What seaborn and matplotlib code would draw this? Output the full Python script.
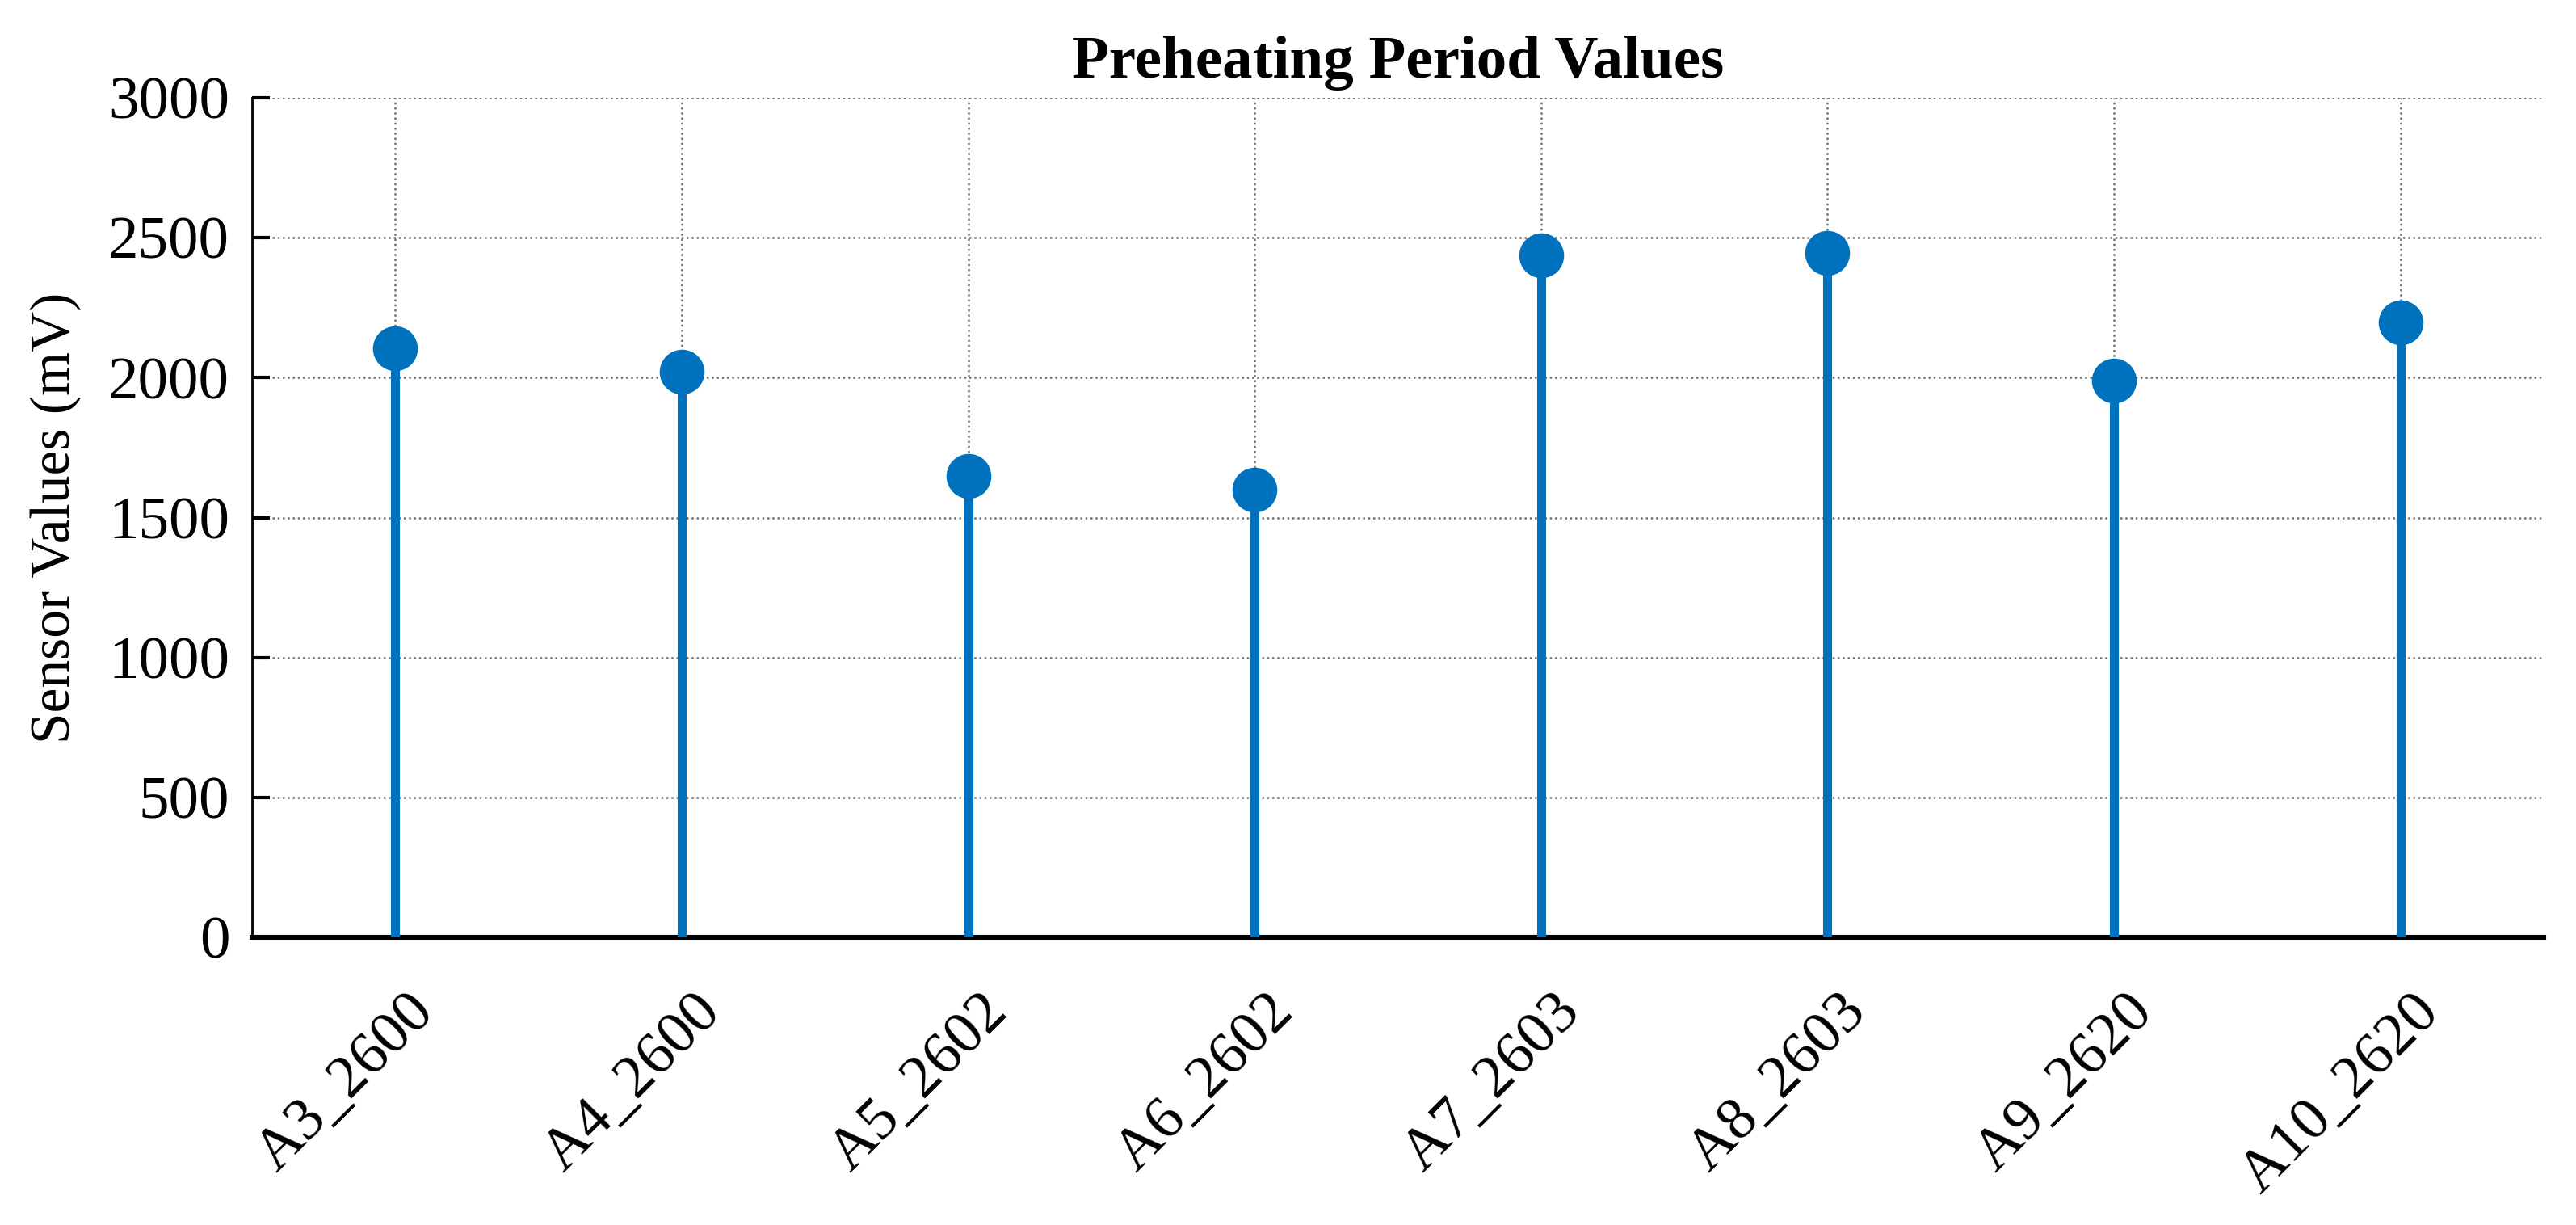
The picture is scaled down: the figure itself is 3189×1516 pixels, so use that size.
import numpy as np
import pandas as pd
import matplotlib
matplotlib.use("Agg")
import matplotlib.pyplot as plt
import matplotlib.transforms as mtransforms
import seaborn as sns

# -----------------------------
# data
# -----------------------------
sensors = ['A3_2600', 'A4_2600', 'A5_2602', 'A6_2602',
           'A7_2603', 'A8_2603', 'A9_2620', 'A10_2620']
values = [2105, 2022, 1648, 1600, 2437, 2447, 1988, 2196]
yticks = [0, 500, 1000, 1500, 2000, 2500, 3000]

df = pd.DataFrame({'sensor': sensors, 'value': values})
df['pos'] = np.arange(1, len(df) + 1)

blue = '#0072BD'

sns.set_theme(style='white')
plt.rcParams['font.family'] = ['Liberation Serif', 'DejaVu Serif']
plt.rcParams['text.color'] = 'black'
plt.rcParams['axes.labelcolor'] = 'black'
plt.rcParams['xtick.color'] = 'black'
plt.rcParams['ytick.color'] = 'black'

fig = plt.figure(figsize=(15.945, 7.58), dpi=200)
ax = fig.add_axes([312 / 3189, 1 - 1160 / 1516, (3149 - 312) / 3189, (1160 - 121) / 1516])

# stems + heads
ax.vlines(df['pos'], 0, df['value'], color=blue, lw=4.0, zorder=3)
sns.scatterplot(data=df, x='pos', y='value', ax=ax, color=blue, s=400,
                edgecolor=blue, linewidth=0, zorder=4, legend=False)

ax.set_xlim(0.5, len(df) + 0.5)
ax.set_ylim(0, 3000)
ax.set_yticks(yticks)
ax.set_xticks(df['pos'])
ax.set_xticklabels(df['sensor'], rotation=45, ha='right', rotation_mode='anchor')

# grid dotted, matlab style
ax.grid(True, which='major', axis='both', color='#707070', ls=(0, (1, 1.5)), lw=0.9)
ax.set_axisbelow(True)

for s in ['top', 'right']:
    ax.spines[s].set_visible(False)
ax.spines['left'].set_color('black')
ax.spines['left'].set_linewidth(1.0)
ax.spines['bottom'].set_color('black')
ax.spines['bottom'].set_linewidth(2.2)

ax.tick_params(axis='y', direction='in', length=8, width=1.5, labelsize=27, pad=10, left=True)
ax.tick_params(axis='x', length=0, labelsize=27, pad=21)

# shift x labels a bit right, like the original
offset = mtransforms.ScaledTranslation(0.07, 0, fig.dpi_scale_trans)
for lbl in ax.get_xticklabels():
    lbl.set_transform(lbl.get_transform() + offset)

ax.set_xlabel('')
ax.set_ylabel('Sensor Values (mV)', fontsize=25, labelpad=12)
ax.set_title('Preheating Period Values', fontsize=27, fontweight='bold', pad=9)

fig.savefig('out.png', dpi=200, facecolor='white')
